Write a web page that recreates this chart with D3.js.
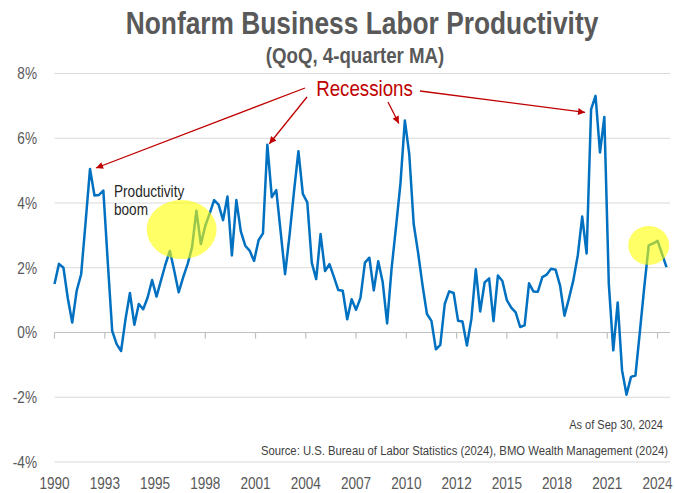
<!DOCTYPE html>
<html>
<head>
<meta charset="utf-8">
<script src="https://cdn.jsdelivr.net/npm/d3@7"></script>
<style>
  body { margin: 0; background: #fff; }
  text { font-family: "Liberation Sans Narrow", "Liberation Sans", sans-serif; }
</style>
</head>
<body>
<div id="chart"></div>
<script>
// quarterly labor productivity growth, 4-quarter moving average (%), 1990 Q1 .. 2024 Q3
var startYear = 1990;
var productivity = [
  1.5, 2.12, 2.0, 1.05, 0.31, 1.29, 1.8, 3.4, 5.05, 4.23, 4.25, 4.38,
  2.2, 0.05, -0.36, -0.57, 0.4, 1.22, 0.24, 0.88, 0.72, 1.08, 1.62, 1.11,
  1.6, 2.1, 2.52, 1.9, 1.24, 1.7, 2.11, 2.63, 3.76, 2.73, 3.3, 3.68,
  4.09, 3.95, 3.47, 4.2, 2.38, 4.09, 3.12, 2.68, 2.53, 2.21, 2.85, 3.06,
  5.8, 4.18, 4.4, 3.1, 1.8, 3.0, 4.35, 5.6, 4.28, 4.02, 2.16, 1.65,
  3.04, 1.9, 2.11, 1.72, 1.31, 1.29, 0.41, 1.03, 0.7, 1.07, 2.16, 2.31,
  1.3, 2.2, 1.55, 0.28, 1.95, 3.25, 4.6, 6.55, 5.52, 3.35, 2.45, 1.45,
  0.57, 0.36, -0.52, -0.38, 0.88, 1.27, 1.22, 0.36, 0.34, -0.4, 0.42, 1.95,
  0.65, 1.55, 1.67, 0.35, 1.76, 1.59, 1.0, 0.77, 0.62, 0.17, 0.22, 1.52,
  1.27, 1.26, 1.71, 1.79, 1.97, 1.94, 1.45, 0.52, 1.04, 1.61, 2.38, 3.58,
  2.44, 6.89, 7.31, 5.56, 6.66, 1.5, -0.55, 0.93, -1.17, -1.92, -1.37, -1.33,
  0.0, 1.4, 2.69, 2.75, 2.83, 2.43, 2.02
];

var yTicks = [-4, -2, 0, 2, 4, 6, 8];
var xTickLabels = ["1990", "1993", "1995", "1998", "2001", "2004", "2007",
                   "2010", "2012", "2015", "2018", "2021", "2024"];
var tickStepMonths = 34;

// quarters (index into productivity) that the recession arrows point at
var recessionPeaks = [8, 48, 79, 121];
// highlighted areas: [quarter index, value %]
var highlights = [[28.8, 3.18], [134, 2.69]];

var width = 675, height = 493;
var narrow = 0.85; // squeeze text horizontally, no condensed font available

var dates = productivity.map(function(v, i) { return new Date(startYear, 2 + 3 * i, 1); });

var svg = d3.select("#chart")
  .append("svg")
    .attr("width", width)
    .attr("height", height);

var x = d3.scaleTime()
  .domain([dates[0], dates[dates.length - 1]])
  .range([54.5, 666.5]);

var y = d3.scaleLinear()
  .domain([-4, 8])
  .range([462, 73.5]);

// quarter index -> x (fractional index allowed)
function xi(i) {
  return x(new Date(startYear, 2 + 3 * i, 1));
}

function place(px, py) {
  return "translate(" + px + "," + py + ") scale(" + narrow + ",1)";
}

// plain text helper
function label(px, py, str, size, color, anchor, weight) {
  return svg.append("text")
    .attr("transform", place(px, py))
    .attr("text-anchor", anchor || "start")
    .style("font-size", size + "px")
    .style("font-weight", weight || "normal")
    .style("fill", color)
    .text(str);
}

// title
label(362, 34, "Nonfarm Business Labor Productivity", 31, "#595959", "middle", "bold");
label(355, 63, "(QoQ, 4-quarter MA)", 22, "#595959", "middle", "bold");

// gridlines
svg.append("g")
  .selectAll("line")
  .data(yTicks)
  .enter().append("line")
    .attr("x1", 54.5).attr("x2", 670)
    .attr("y1", function(d) { return y(d); })
    .attr("y2", function(d) { return y(d); })
    .style("stroke", "#d9d9d9")
    .style("stroke-width", 1);

// y labels
svg.append("g")
  .selectAll("text")
  .data(yTicks)
  .enter().append("text")
    .attr("transform", function(d) { return place(37, y(d)); })
    .attr("dy", "0.36em")
    .attr("text-anchor", "end")
    .style("font-size", "16px")
    .style("fill", "#595959")
    .text(function(d) { return d + "%"; });

// x axis at 0% with tick marks, labels at bottom
var tickDates = xTickLabels.map(function(l, k) { return d3.timeMonth.offset(dates[0], k * tickStepMonths); });

svg.append("line")
  .attr("x1", 54.5).attr("x2", 670)
  .attr("y1", y(0)).attr("y2", y(0))
  .style("stroke", "#bfbfbf").style("stroke-width", 1.2);

svg.append("g")
  .selectAll("line")
  .data(tickDates)
  .enter().append("line")
    .attr("x1", function(d) { return x(d); })
    .attr("x2", function(d) { return x(d); })
    .attr("y1", y(0)).attr("y2", y(0) + 6)
    .style("stroke", "#bfbfbf").style("stroke-width", 1.2);

svg.append("g")
  .selectAll("text")
  .data(tickDates)
  .enter().append("text")
    .attr("transform", function(d) { return place(x(d), 489); })
    .attr("text-anchor", "middle")
    .style("font-size", "16px")
    .style("fill", "#595959")
    .text(function(d, k) { return xTickLabels[k]; });

// the line
var line = d3.line()
  .x(function(d, i) { return x(dates[i]); })
  .y(function(d) { return y(d); });

svg.append("path")
  .datum(productivity)
  .attr("d", line)
  .style("fill", "none")
  .style("stroke", "#0070c0")
  .style("stroke-width", 2.5)
  .style("stroke-linejoin", "round");

// yellow highlights
svg.append("ellipse")
  .attr("cx", xi(highlights[0][0])).attr("cy", y(highlights[0][1]))
  .attr("rx", 35).attr("ry", 29.5)
  .style("fill", "#ffff00").style("fill-opacity", 0.6);
svg.append("ellipse")
  .attr("cx", xi(highlights[1][0])).attr("cy", y(highlights[1][1]))
  .attr("rx", 20.5).attr("ry", 19.5)
  .style("fill", "#ffff00").style("fill-opacity", 0.6);

label(114, 197, "Productivity", 16, "#262626");
label(114, 215, "boom", 16, "#262626");

// recessions label and arrows
var red = "#c00000";
svg.append("defs").append("marker")
  .attr("id", "head")
  .attr("viewBox", "0 0 10 10")
  .attr("refX", 10).attr("refY", 5)
  .attr("markerWidth", 9).attr("markerHeight", 7)
  .attr("markerUnits", "userSpaceOnUse")
  .attr("orient", "auto")
  .append("path")
    .attr("d", "M0,0L10,5L0,10z")
    .style("fill", red);

label(364.5, 96, "Recessions", 22, red, "middle");

var arrowStarts = [[305, 88], [307, 97], [388, 102], [420, 91]];
var tipOffsets = [[6, -1], [2, -1], [-6, 3], [-6, 3]];

svg.append("g")
  .selectAll("line")
  .data(recessionPeaks)
  .enter().append("line")
    .attr("x1", function(d, k) { return arrowStarts[k][0]; })
    .attr("y1", function(d, k) { return arrowStarts[k][1]; })
    .attr("x2", function(d, k) { return x(dates[d]) + tipOffsets[k][0]; })
    .attr("y2", function(d, k) { return y(productivity[d]) + tipOffsets[k][1]; })
    .style("stroke", red)
    .style("stroke-width", 1.3)
    .attr("marker-end", "url(#head)");

// notes
label(663, 429, "As of Sep 30, 2024", 13, "#404040", "end");
label(668, 455, "Source: U.S. Bureau of Labor Statistics (2024), BMO Wealth Management (2024)", 13.3, "#404040", "end");
</script>
</body>
</html>
